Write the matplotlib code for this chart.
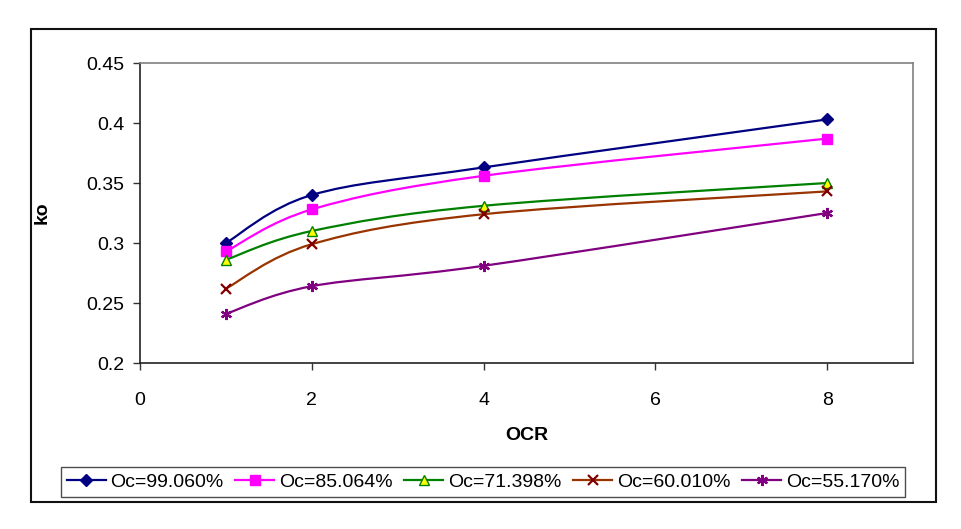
import numpy as np
import matplotlib
matplotlib.use('Agg')
import matplotlib.pyplot as plt
from matplotlib.patches import Rectangle
from matplotlib.path import Path
from matplotlib.patches import PathPatch

plt.rcParams['font.family'] = ['Liberation Sans', 'DejaVu Sans']

# data
ocr = [1, 2, 4, 8]
labels = ['Oc=99.060%', 'Oc=85.064%', 'Oc=71.398%', 'Oc=60.010%', 'Oc=55.170%']
ko_99 = [0.300, 0.340, 0.363, 0.403]
ko_85 = [0.293, 0.328, 0.356, 0.387]
ko_71 = [0.286, 0.310, 0.331, 0.350]
ko_60 = [0.262, 0.299, 0.324, 0.343]
ko_55 = [0.241, 0.264, 0.281, 0.325]
series = [ko_99, ko_85, ko_71, ko_60, ko_55]

line_colors = ['#000080', '#FF00FF', '#008000', '#993300', '#800080']
marker_face = ['#000080', '#FF00FF', '#FFFF00', '#800000', '#800080']
marker_edge = ['#000080', '#FF00FF', '#008000', '#800000', '#800080']
markers = ['D', 's', '^', 'x', (6, 2, 0)]
msizes = [6, 6.5, 7, 7, 8]


def smooth_path(x, y):
    # excel-like smoothed line: bezier segments with catmull-rom control points
    pts = np.column_stack([x, y]).astype(float)
    n = len(pts)
    verts = [pts[0]]
    codes = [Path.MOVETO]
    for i in range(n - 1):
        p0 = pts[i - 1] if i > 0 else pts[i]
        p1 = pts[i]
        p2 = pts[i + 1]
        p3 = pts[i + 2] if i + 2 < n else pts[i + 1]
        c1 = p1 + (p2 - p0) / 6.0
        c2 = p2 - (p3 - p1) / 6.0
        verts += [c1, c2, p2]
        codes += [Path.CURVE4] * 3
    return Path(verts, codes)


fig = plt.figure(figsize=(9.61, 5.29), dpi=100)
ax = fig.add_axes([140 / 961, 1 - 363 / 529, 773 / 961, 300 / 529])

handles = []
for i, vals in enumerate(series):
    patch = PathPatch(smooth_path(ocr, vals), facecolor='none',
                      edgecolor=line_colors[i], lw=1.6, zorder=2 + 2 * i)
    ax.add_patch(patch)
    mew = 1.6 if markers[i] in ('x',) or isinstance(markers[i], tuple) else 1.0
    ax.plot(ocr, vals, ls='none', marker=markers[i], ms=msizes[i],
            mfc=marker_face[i], mec=marker_edge[i], mew=mew, zorder=3 + 2 * i)
    h, = ax.plot([], [], color=line_colors[i], lw=1.6, marker=markers[i],
                 ms=msizes[i], mfc=marker_face[i], mec=marker_edge[i], mew=mew)
    handles.append(h)

ax.set_xlim(0, 9)
ax.set_ylim(0.2, 0.45)
ax.set_xticks([0, 2, 4, 6, 8])
ax.set_yticks([0.2, 0.25, 0.3, 0.35, 0.4, 0.45])
ax.set_yticklabels(['0.2', '0.25', '0.3', '0.35', '0.4', '0.45'])
ax.tick_params(direction='out', length=5, width=1, labelsize=14, color='#333333')
ax.tick_params(axis='y', pad=6)
ax.tick_params(axis='x', pad=16)

for side in ['left', 'bottom']:
    ax.spines[side].set_color('#222222')
    ax.spines[side].set_linewidth(1.2)
for side in ['top', 'right']:
    ax.spines[side].set_color('#808080')
    ax.spines[side].set_linewidth(1.2)

ax.set_ylabel('ko', fontsize=14, fontweight='bold')
ax.yaxis.set_label_coords(-0.115, 0.5)
ax.set_xlabel('OCR', fontsize=14, fontweight='bold')
ax.xaxis.set_label_coords(0.5, -0.215)

leg = fig.legend(handles, labels, loc='center', bbox_to_anchor=(483 / 961, 1 - 482 / 529),
                 ncol=5, fontsize=14, frameon=True, fancybox=False,
                 handlelength=2.0, handletextpad=0.25, columnspacing=0.6,
                 borderpad=0.3, borderaxespad=0)
leg.get_frame().set_edgecolor('#222222')
leg.get_frame().set_linewidth(1.0)

# outer chart border
fig.patches.append(Rectangle((31 / 961, 1 - 502 / 529), 905 / 961, 473 / 529,
                             transform=fig.transFigure, fill=False,
                             edgecolor='#111111', lw=1.5))

fig.savefig('out.png', dpi=100)
